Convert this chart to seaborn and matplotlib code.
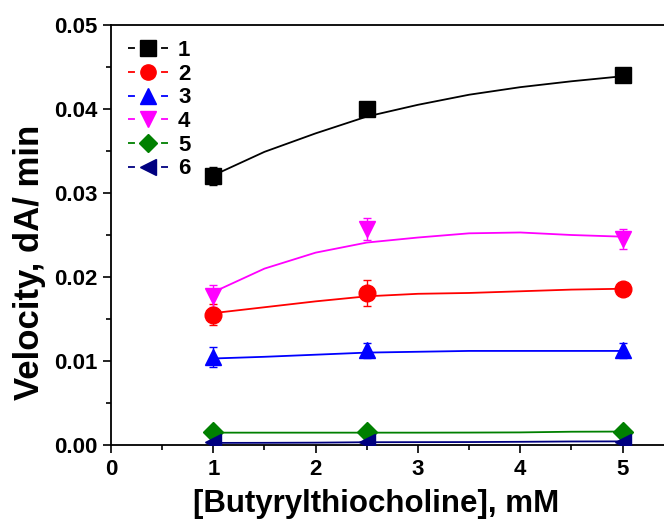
import numpy as np
import pandas as pd
import matplotlib
matplotlib.use("Agg")
import matplotlib.pyplot as plt
import seaborn as sns
from matplotlib.lines import Line2D
from matplotlib.ticker import MultipleLocator, FormatStrFormatter

# measured points: substrate concentration (mM) and velocity (dA/min)
conc = [1.0, 2.5, 5.0]
v1 = [0.0320, 0.0400, 0.0440]
v2 = [0.0155, 0.0181, 0.0186]
v3 = [0.0105, 0.0113, 0.0113]
v4 = [0.0177, 0.0257, 0.0245]
v5 = [0.0015, 0.0015, 0.0016]
v6 = [0.0003, 0.0004, 0.0004]

err1 = [0.0011, 0.0004, 0.0004]
err2 = [0.00125, 0.0016, 0.0005]
err3 = [0.0012, 0.0009, 0.0009]
err4 = [0.0013, 0.0013, 0.0012]
err5 = [0.0002, 0.0002, 0.0002]
err6 = [0.0002, 0.0002, 0.0002]

# fitted curves
fit_x = [1.0, 1.5, 2.0, 2.5, 3.0, 3.5, 4.0, 4.5, 5.0]
fit1 = [0.0321, 0.0349, 0.0371, 0.0391, 0.0405, 0.0417, 0.0426, 0.0433, 0.0439]
fit2 = [0.0157, 0.0164, 0.0171, 0.0177, 0.0180, 0.0181, 0.0183, 0.0185, 0.0186]
fit3 = [0.0103, 0.0105, 0.01075, 0.0110, 0.0111, 0.0112, 0.0112, 0.0112, 0.0112]
fit4 = [0.0182, 0.0210, 0.0229, 0.0241, 0.0247, 0.0252, 0.0253, 0.0250, 0.0248]
fit5 = [0.00147, 0.00147, 0.00147, 0.00147, 0.00147, 0.00148, 0.00150, 0.00158, 0.0016]
fit6 = [0.00025, 0.00026, 0.00028, 0.00033, 0.00034, 0.00035, 0.00038, 0.00042, 0.00043]

labels = ["1", "2", "3", "4", "5", "6"]
colors = ["#000000", "#ff0000", "#0000ff", "#ff00ff", "#008000", "#000080"]
markers = ["s", "o", "^", "v", "D", "<"]
values = [v1, v2, v3, v4, v5, v6]
errors = [err1, err2, err3, err4, err5, err6]
fits = [fit1, fit2, fit3, fit4, fit5, fit6]

sns.set_style("ticks")
plt.rcParams["font.family"] = ["Liberation Sans", "DejaVu Sans"]
plt.rcParams["font.weight"] = "bold"
for key in ["text.color", "axes.labelcolor", "xtick.color", "ytick.color", "axes.edgecolor"]:
    plt.rcParams[key] = "black"

fig = plt.figure(figsize=(6.64, 5.23), dpi=100)
ax = fig.add_axes([111 / 664, 1 - 445 / 523, 573 / 664, 420 / 523])

fit_df = pd.DataFrame({
    "x": np.tile(fit_x, len(labels)),
    "y": np.concatenate(fits),
    "series": np.repeat(labels, len(fit_x)),
})
sns.lineplot(data=fit_df, x="x", y="y", hue="series", palette=colors,
             linewidth=1.3, legend=False, ax=ax)

for lab, col, mk, vals, errs in zip(labels, colors, markers, values, errors):
    ax.errorbar(conc, vals, yerr=errs, fmt="none", ecolor=col,
                elinewidth=1.0, capsize=3, capthick=1.0, zorder=3)
    ax.plot(conc, vals, linestyle="none", marker=mk, color=col,
            markersize=12 if mk != "D" else 10, zorder=4)

ax.set_xlim(0, 5.6)
ax.set_ylim(0, 0.05)
ax.xaxis.set_major_locator(MultipleLocator(1))
ax.xaxis.set_minor_locator(MultipleLocator(0.5))
ax.yaxis.set_major_locator(MultipleLocator(0.01))
ax.yaxis.set_minor_locator(MultipleLocator(0.005))
ax.yaxis.set_major_formatter(FormatStrFormatter("%.2f"))
ax.tick_params(which="major", direction="out", length=6, width=1.2,
               labelsize=16, pad=4, colors="black")
ax.tick_params(which="minor", direction="out", length=3.5, width=1.2, colors="black")
ax.tick_params(top=False, right=False, which="both")
for side in ["left", "bottom", "top", "right"]:
    ax.spines[side].set_linewidth(1.3)
    ax.spines[side].set_color("black")
for t in ax.get_xticklabels() + ax.get_yticklabels():
    t.set_fontweight("bold")

ax.set_xlabel("[Butyrylthiocholine], mM", fontsize=22.5, fontweight="bold")
ax.set_ylabel("Velocity, dA/ min", fontsize=25, fontweight="bold")
ax.xaxis.set_label_coords((376 - 111) / 573, (445 - 489) / 420)
ax.yaxis.set_label_coords((46 - 111) / 573, (445 - 262) / 420)

lw = 1.3
handles = [Line2D([0], [0], color=c, marker=m, linestyle=(0, (5 / lw, 18.8 / lw)),
                  linewidth=lw, markersize=11 if m != "D" else 9)
           for c, m in zip(colors, markers)]
leg = ax.legend(handles, labels, loc="upper left",
                bbox_to_anchor=((128 - 111) / 573, (445 - 40) / 420),
                frameon=False, fontsize=16, handlelength=1.8,
                handletextpad=0.45, labelspacing=0.12,
                borderaxespad=0, borderpad=0)
for t in leg.get_texts():
    t.set_fontweight("bold")

fig.savefig("out.png", dpi=100)
